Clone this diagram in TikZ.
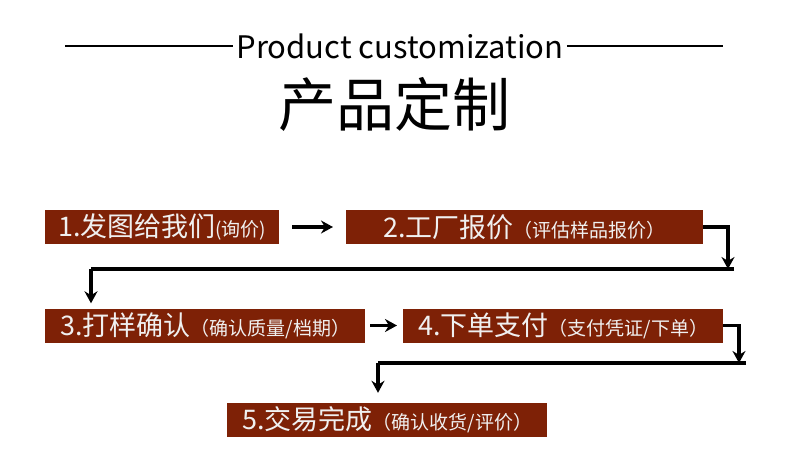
\documentclass[tikz,border=0pt]{standalone}
\usepackage{fontspec}
\setmainfont{Noto Sans CJK SC}
\usetikzlibrary{arrows.meta}
\definecolor{stepred}{RGB}{126,33,6}
\begin{document}
\begin{tikzpicture}[x=1pt,y=-1pt,
  stepbox/.style={fill=stepred,text=white!94!black,minimum height=34pt,inner sep=0pt,anchor=west},
  flow/.style={line width=3.2pt,-{Stealth[length=12pt,width=13pt]}},
  link/.style={line width=3.2pt}]
\useasboundingbox (0,0) rectangle (790,476);
% heading
\node (en) at (400,46) {\fontsize{31}{31}\selectfont Product customization};
\draw[line width=1.4pt] (65,46) -- (en.west);
\draw[line width=1.4pt] (en.east) -- (723,46);
\node (cn) at (394,104) {\fontsize{58}{58}\selectfont 产品定制};
% steps
\node[stepbox,minimum width=234pt] (s1) at (45,227) {\fontsize{27}{27}\selectfont 1.发图给我们\fontsize{19}{19}\selectfont (询价)};
\node[stepbox,minimum width=357pt] (s2) at (346,227) {\fontsize{27}{27}\selectfont 2.工厂报价\fontsize{19}{19}\selectfont （评估样品报价）};
\node[stepbox,minimum width=320pt] (s3) at (45,325.5) {\fontsize{27}{27}\selectfont 3.打样确认\fontsize{19}{19}\selectfont （确认质量/档期）};
\node[stepbox,minimum width=320pt] (s4) at (403,325.5) {\fontsize{27}{27}\selectfont 4.下单支付\fontsize{19}{19}\selectfont （支付凭证/下单）};
\node[stepbox,minimum width=320pt] (s5) at (227,420) {\fontsize{27}{27}\selectfont 5.交易完成\fontsize{19}{19}\selectfont （确认收货/评价）};
% connectors
\coordinate (r1) at (728,269);
\coordinate (l1) at (91,269);
\coordinate (r2) at (739,363);
\coordinate (l2) at (378,363);
\draw[flow,shorten <=13pt,shorten >=13pt] (s1) -- (s2);
\draw[flow,shorten <=5pt,shorten >=6pt] (s3) -- (s4);
\draw[flow] (s2.east) -| (r1);
\draw[link] (r1) ++(6,0) -- (l1);
\draw[flow,shorten >=5pt] (l1) -- (l1 |- s3.north);
\draw[flow] (s4.east) -| (r2);
\draw[link] (r2) ++(7,0) -- (l2);
\draw[flow,shorten >=10pt] (l2) -- (l2 |- s5.north);
\end{tikzpicture}
\end{document}
